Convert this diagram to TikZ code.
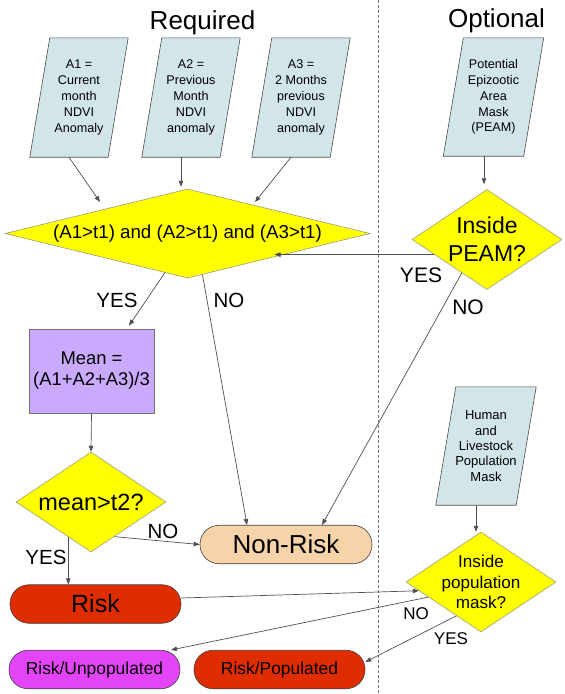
\documentclass[tikz,border=0pt]{standalone}
\usepackage{fontspec}
\setmainfont{Liberation Sans}
\usetikzlibrary{shapes.geometric,arrows.meta,calc,backgrounds}
\definecolor{pgfill}{HTML}{D2E5E9}
\definecolor{dyel}{HTML}{FFFF00}
\definecolor{lav}{HTML}{CAAAFF}
\definecolor{peach}{HTML}{F6D3A8}
\definecolor{rred}{HTML}{E02D00}
\definecolor{mag}{HTML}{E244F6}
\definecolor{lnc}{HTML}{505050}
\newcommand\fs[2]{\fontsize{#1}{#2}\selectfont}
\begin{document}
\begin{tikzpicture}[x=1pt,y=-1pt,
  conn/.style={draw=lnc, line width=0.7pt},
  arr/.style={conn, -{Triangle[length=6pt,width=4.5pt]}},
  pgtext/.style={rectangle, inner sep=0pt, align=center, minimum width=78pt, minimum height=119pt, font=\fs{12.6}{15.8}},
  pgshape/.style={fill=pgfill, draw=black!70, line width=0.6pt},
  dia/.style={diamond, fill=dyel, draw=black!45, line width=0.5pt, inner sep=-4pt, aspect=1.5, minimum width=150pt, minimum height=100pt, align=center},
  pill/.style={rectangle, rounded corners=19pt, minimum height=38.5pt, minimum width=171pt, draw=black!75, line width=0.6pt, inner sep=0pt},
  lbl/.style={font=\fs{20.5}{24}, inner sep=0pt},
  slbl/.style={font=\fs{17}{20}, inner sep=0pt},
  ttl/.style={font=\fs{26}{30}, anchor=base, inner sep=0pt},
]
\useasboundingbox (0,0) rectangle (565,694);
\begin{scope}[on background layer]
\fill[white] (0,0) rectangle (565,694);
\end{scope}

% separator
\coordinate (sept) at (378,0);
\coordinate (sepb) at (378,694);
\draw[draw=black!55, dash pattern=on 3pt off 2pt, line width=0.7pt] (sept) -- (sepb);

% titles
\node[ttl] (treq) at (202.5,29) {Required};
\node[ttl] (topt) at (496.5,27) {Optional};

% inputs
\node[pgtext] (a1) at (79,97.5) {A1 =\\Current\\month\\NDVI\\Anomaly};
\node[pgtext] (a2) at (191,97.5) {A2 =\\Previous\\Month\\NDVI\\anomaly};
\node[pgtext] (a3) at (301,97.5) {A3 =\\2 Months\\previous\\NDVI\\anomaly};
\node[pgtext, minimum width=80pt, minimum height=118pt] (peam) at (493.5,97) {Potential\\Epizootic\\Area\\Mask\\(PEAM)};
\node[pgtext, minimum width=80pt, minimum height=118pt, font=\fs{13}{15.3}] (hm) at (486,446) {Human\\and\\Livestock\\Population\\Mask};
\begin{scope}[on background layer]
\foreach \n in {a1,a2,a3,peam,hm}
  \draw[pgshape] ([xshift=-10pt]\n.south west) -- ([xshift=-10pt]\n.south east) -- ([xshift=10pt]\n.north east) -- ([xshift=10pt]\n.north west) -- cycle;
\end{scope}

% decisions
\node[dia, aspect=4.1, minimum width=365pt, minimum height=89pt, inner sep=0pt, font=\fs{18.7}{22}] (d1) at (187.5,233.5) {(A1>t1) and (A2>t1) and (A3>t1)};
\node[dia, font=\fs{23}{28}] (dpeam) at (487,239.5) {Inside\\PEAM?};
\node[dia, font=\fs{23.5}{28}] (dmean) at (91,502) {mean>t2?};
\node[dia, font=\fs{17.1}{20.5}] (dpop) at (481,582) {Inside\\population\\mask?};

% process
\node[rectangle, fill=lav, draw=black!55, line width=0.6pt, minimum width=125pt, minimum height=84pt, align=center, font=\fs{18.4}{21}] (mean) at (91.5,371) {Mean =\\(A1+A2+A3)/3};

% results
\node[pill, fill=peach, minimum width=172pt, font=\fs{26}{30}] (nonrisk) at (286,544.5) {Non-Risk};
\node[pill, fill=rred, font=\fs{25}{30}] (risk) at (95.5,604) {Risk};
\node[pill, fill=mag, font=\fs{17.4}{21}] (runpop) at (94.5,669.5) {Risk/Unpopulated};
\node[pill, fill=rred, font=\fs{17.4}{21}] (rpop) at (279.5,669.5) {Risk/Populated};

% helper coordinates
\coordinate (a2b) at ([xshift=-10pt]a2.south);
\coordinate (peb) at ([xshift=-9.5pt]peam.south);
\coordinate (hmb) at ([xshift=-10pt]hm.south);
\coordinate (d1in1) at ($(d1.center)+(-87.5,-31.5)$);
\coordinate (d1in3) at ($(d1.center)+(67.5,-31.5)$);
\coordinate (yesin) at ($(d1.center)+(87,21.5)$);

% connectors
\draw[arr] ([xshift=-10pt]a1.south) -- (d1in1);
\draw[arr, shorten >=2pt] (a2b) -- (a2b |- d1.north);
\draw[arr] ([xshift=-10pt]a3.south) -- (d1in3);
\draw[arr, shorten >=5pt] (peb) -- (peb |- dpeam.north);
\draw[arr] (dpeam.196.6) -- (dpeam.196.6 -| yesin);
\draw[arr] (dpeam.233.3) -- ([xshift=36pt]nonrisk.north);
\draw[arr] (d1.240) -- ([xshift=37.5pt,yshift=3pt]mean.north);
\draw[arr] (d1.290) -- ([xshift=-39pt]nonrisk.north);
\draw[arr] (mean.south) -- (dmean.north);
\draw[arr] (dmean.304) -- (nonrisk.west);
\draw[arr] (dmean.237.8) -- (dmean.237.8 |- risk.north);
\draw[arr] (hmb) -- (hmb |- dpop.north);
\draw[arr] (risk.4.7) -- (dpop.188);
\draw[arr] (dpop.196.8) -- ([xshift=76.5pt]runpop.north);
\draw[arr] (dpop.234.8) -- (rpop.5);

% labels
\node[lbl] (l1) at (117,300) {YES};
\node[lbl] (l2) at (229,300) {NO};
\node[lbl, font=\fs{21}{24}] (l3) at (421,275) {YES};
\node[lbl, font=\fs{21}{24}] (l4) at (468,307) {NO};
\node[lbl] (l5) at (163,531) {NO};
\node[lbl] (l6) at (46,557) {YES};
\node[slbl] (l7) at (416,614) {NO};
\node[slbl] (l8) at (451,639) {YES};
\end{tikzpicture}
\end{document}
